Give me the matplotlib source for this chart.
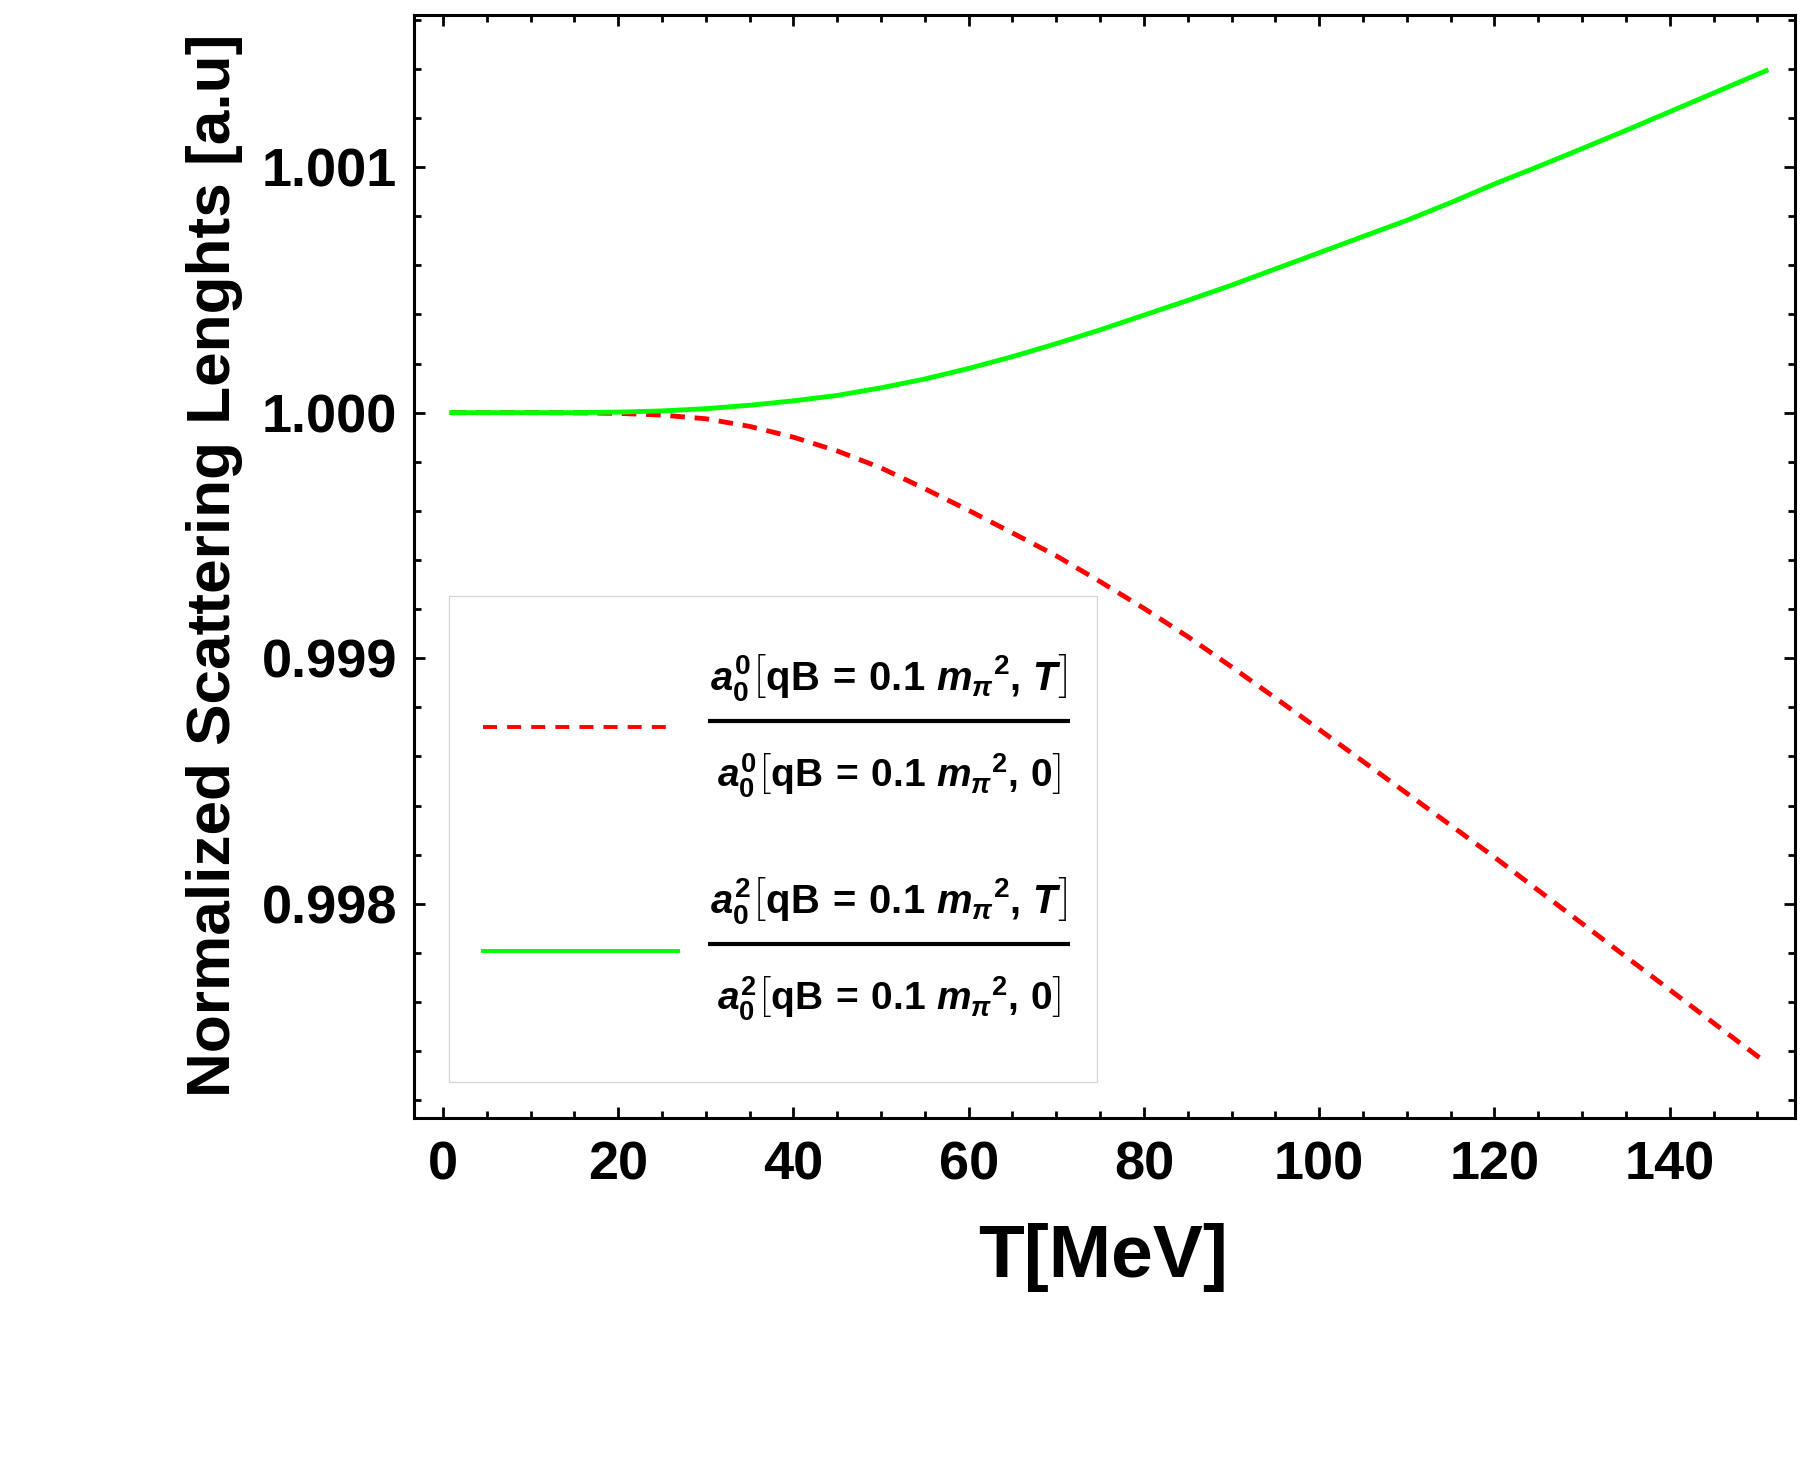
import matplotlib
matplotlib.use("Agg")
import matplotlib.pyplot as plt
from matplotlib import font_manager
from matplotlib.lines import Line2D
from matplotlib.patches import Rectangle
from matplotlib.ticker import MultipleLocator, FormatStrFormatter

# ---------------- data ----------------
T_values = [1, 5, 10, 15, 20, 25, 30, 35, 40, 45, 50, 55, 60, 65, 70, 75, 80,
            85, 90, 95, 100, 105, 110, 115, 120, 125, 130, 135, 140, 145, 150, 151]
ratio_a00 = [1.0, 1.0, 1.0, 0.999999, 0.999997, 0.999990, 0.999975, 0.999944,
             0.999900, 0.999844, 0.999775, 0.999690, 0.999602, 0.999510,
             0.999417, 0.999312, 0.999203, 0.999088, 0.998965, 0.998838,
             0.998710, 0.998580, 0.998450, 0.998320, 0.998190, 0.998055,
             0.997920, 0.997785, 0.997650, 0.997515, 0.997380, 0.997355]
ratio_a02 = [1.0, 1.0, 1.0, 1.0, 1.000002, 1.000007, 1.000016, 1.000030,
             1.000048, 1.000070, 1.000101, 1.000137, 1.000180, 1.000228,
             1.000281, 1.000337, 1.000397, 1.000457, 1.000519, 1.000585,
             1.000651, 1.000717, 1.000783, 1.000855, 1.000931, 1.001002,
             1.001075, 1.001149, 1.001225, 1.001301, 1.001377, 1.001392]
x_ticks = [0, 20, 40, 60, 80, 100, 120, 140]
y_ticks = [0.998, 0.999, 1.000, 1.001]
x_label = "T[MeV]"
y_label = "Normalized Scattering Lenghts [a.u]"
legend_num = [r"$a_0^0\left[\mathbf{qB}\,\mathbf{=}\,\mathbf{0.1}\ m_{\pi}{}^{\mathbf{2}}\mathbf{,}\ T\right]$",
              r"$a_0^2\left[\mathbf{qB}\,\mathbf{=}\,\mathbf{0.1}\ m_{\pi}{}^{\mathbf{2}}\mathbf{,}\ T\right]$"]
legend_den = [r"$a_0^0\left[\mathbf{qB}\,\mathbf{=}\,\mathbf{0.1}\ m_{\pi}{}^{\mathbf{2}}\mathbf{,}\ \mathbf{0}\right]$",
              r"$a_0^2\left[\mathbf{qB}\,\mathbf{=}\,\mathbf{0.1}\ m_{\pi}{}^{\mathbf{2}}\mathbf{,}\ \mathbf{0}\right]$"]

# ---------------- fonts ----------------
def has_font(name):
    try:
        font_manager.findfont(name, fallback_to_default=False)
        return True
    except Exception:
        return False

main_font = "Liberation Sans" if has_font("Liberation Sans") else "DejaVu Sans"
narrow_font = "Liberation Sans Narrow" if has_font("Liberation Sans Narrow") else main_font

plt.rcParams["font.family"] = [main_font, "DejaVu Sans"]
plt.rcParams["mathtext.fontset"] = "custom"
plt.rcParams["mathtext.rm"] = f"{narrow_font}:bold"
plt.rcParams["mathtext.bf"] = f"{narrow_font}:bold"
plt.rcParams["mathtext.it"] = f"{narrow_font}:italic:bold"
plt.rcParams["mathtext.sf"] = f"{narrow_font}:bold"

W, H = 1800, 1475
fig = plt.figure(figsize=(W / 100, H / 100), dpi=100)

def fx(px):
    return px / W

def fy(py):
    return 1 - py / H

ax = fig.add_axes([fx(414), fy(1118), fx(1795) - fx(414), fy(15) - fy(1118)])

red = "#FF0000"
green = "#00FF00"
lw = 3.5
dash = (3.0, 2.0)

ax.plot(T_values, ratio_a00, color=red, lw=lw, dashes=dash, dash_capstyle="butt")
ax.plot(T_values, ratio_a02, color=green, lw=lw, solid_joinstyle="round")

ax.set_xlim(-3.3, 154.3)
ax.set_ylim(0.997128, 1.001619)

ax.set_xticks(x_ticks)
ax.xaxis.set_minor_locator(MultipleLocator(5))
ax.set_yticks(y_ticks)
ax.yaxis.set_minor_locator(MultipleLocator(0.0002))
ax.yaxis.set_major_formatter(FormatStrFormatter("%.3f"))

ax.tick_params(which="both", direction="in", top=True, right=True, width=2.0,
               labelsize=39, color="black")
ax.tick_params(which="major", length=8)
ax.tick_params(which="minor", length=5)
ax.tick_params(axis="x", which="major", pad=16)
ax.tick_params(axis="y", which="major", pad=12)
for lab in ax.get_xticklabels() + ax.get_yticklabels():
    lab.set_fontweight("bold")
for sp in ax.spines.values():
    sp.set_linewidth(2.2)

# axis labels
fig.text(fx(1103), fy(1257), x_label, fontsize=54, fontweight="bold",
         ha="center", va="center")
ylab = fig.text(fx(215), fy(565), y_label, fontsize=44, fontweight="bold",
                family=[narrow_font, "DejaVu Sans"], rotation=90,
                ha="center", va="center")

# ---------------- legend ----------------
fig.patches.append(Rectangle((fx(448.5), fy(1082)), fx(1097) - fx(448.5),
                             fy(596) - fy(1082), transform=fig.transFigure,
                             facecolor="white", edgecolor="#d4d4d4", lw=0.9,
                             zorder=5))
fig.lines.append(Line2D([fx(483), fx(673)], [fy(727), fy(727)], color=red, lw=lw * 0.8,
                        dashes=(3.6, 2.6), dash_capstyle="butt",
                        transform=fig.transFigure, zorder=6))
fig.lines.append(Line2D([fx(483), fx(678)], [fy(951), fy(951)], color=green, lw=lw * 0.8,
                        transform=fig.transFigure, zorder=6))

bar_y = [721, 944]
num_base = [690, 913]
den_base = [787, 1010]
texts = []
for i in range(2):
    fig.lines.append(Line2D([fx(708), fx(1070)], [fy(bar_y[i]), fy(bar_y[i])],
                            color="black", lw=3.0, transform=fig.transFigure,
                            zorder=6, solid_capstyle="butt"))
    t1 = fig.text(fx(889), fy(num_base[i]), legend_num[i], fontsize=30,
                  ha="center", va="baseline", zorder=7)
    t2 = fig.text(fx(889), fy(den_base[i]), legend_den[i], fontsize=30,
                  ha="center", va="baseline", zorder=7)
    texts.append((t1, 357))
    texts.append((t2, 345))

# fit text sizes to measured extents
fig.canvas.draw()
r = fig.canvas.get_renderer()
bb = ylab.get_window_extent(r)
ylab.set_fontsize(44 * 1062 / bb.height)
for t, target in texts:
    w = t.get_window_extent(r).width
    t.set_fontsize(30 * target / w)

fig.savefig("out.png", dpi=100, facecolor="white")
